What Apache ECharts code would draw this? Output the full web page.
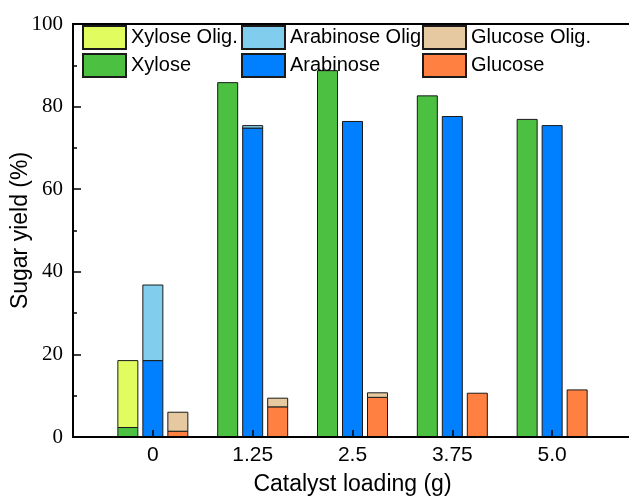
<!DOCTYPE html>
<html>
<head>
<meta charset="utf-8">
<script src="https://cdn.jsdelivr.net/npm/echarts@6/dist/echarts.min.js"></script>
<style>
  html, body { margin: 0; padding: 0; background: #fff; }
  #chart { width: 629px; height: 496px; }
</style>
</head>
<body>
<div id="chart"></div>
<script>
// Catalyst loading (g) for each group of bars
const loadings = [0, 1.25, 2.5, 3.75, 5];
const loadingLabels = ['0', '1.25', '2.5', '3.75', '5.0'];

// Sugar yields (%): monomers, with the oligomer part stacked on top of them
const xylose        = [2.3, 85.8, 88.7, 82.6, 76.9];
const xyloseOlig    = [16.2, 0, 0, 0, 0];
const arabinose     = [18.5, 74.8, 76.4, 77.6, 75.4];
const arabinoseOlig = [18.3, 0.6, 0, 0, 0];
const glucose       = [1.4, 7.3, 9.6, 10.6, 11.4];
const glucoseOlig   = [4.6, 2.1, 1.1, 0, 0];

const yTicks = [0, 20, 40, 60, 80, 100];

// [x, bottom, top] for each segment of a stacked column
function segments(vals, base) {
  return loadings.map((x, i) => {
    const lo = base ? base[i] : 0;
    return [x, lo, lo + vals[i]];
  });
}

const BAR_W = 20, BAR_STEP = 25, EDGE = '#1a1a1a';

function barSeries(name, column, color, data) {
  return {
    name, type: 'custom',
    itemStyle: { color, borderColor: EDGE, borderWidth: 1 },
    encode: { x: 0, y: [1, 2] },
    data,
    renderItem(params, api) {
      const lo = api.value(1), hi = api.value(2);
      if (hi - lo <= 0) return null;
      const p0 = api.coord([api.value(0), lo]);
      const p1 = api.coord([api.value(0), hi]);
      const left = p0[0] + column * BAR_STEP - BAR_W / 2;
      return {
        type: 'rect',
        shape: { x: left, y: p1[1], width: BAR_W, height: p0[1] - p1[1] },
        style: { fill: color, stroke: EDGE, lineWidth: 1 }
      };
    }
  };
}

const legendText = { fontFamily: 'Liberation Sans', fontSize: 20, color: '#000' };
function legendCol(left, names, extraText) {
  return {
    orient: 'vertical', left, top: 25, itemWidth: 43, itemHeight: 23, itemGap: 3,
    padding: 0, icon: 'rect', selectedMode: false,
    textStyle: Object.assign({}, legendText, extraText || {}),
    data: names
  };
}

const chart = echarts.init(document.getElementById('chart'), null, { renderer: 'canvas' });

chart.setOption({
  animation: false,
  // frame: left, top and bottom edges; the right edge sits just past the canvas
  grid: {
    left: 73, right: -3, top: 24, bottom: 59,
    containLabel: false, outerBoundsMode: 'none',
    show: true, borderColor: '#000', borderWidth: 2
  },
  legend: [
    legendCol(82, ['Xylose Olig.', 'Xylose']),
    legendCol(241, ['Arabinose Olig.', 'Arabinose'], { width: 137, overflow: 'truncate', ellipsis: '' }),
    legendCol(422, ['Glucose Olig.', 'Glucose'])
  ],
  xAxis: {
    type: 'value', min: -1, max: 6, z: 10,
    name: 'Catalyst loading (g)', nameLocation: 'middle', nameGap: 36, nameMoveOverlap: false,
    nameTextStyle: { fontFamily: 'Liberation Sans', fontSize: 23, color: '#000' },
    axisLine: { onZero: false, lineStyle: { color: '#000', width: 2 } },
    axisTick: { inside: true, length: 7, customValues: loadings, lineStyle: { color: '#000', width: 1.5 } },
    axisLabel: {
      customValues: loadings, margin: 8,
      fontFamily: 'Liberation Sans', fontSize: 21, color: '#000',
      formatter: v => loadingLabels[loadings.indexOf(v)]
    },
    splitLine: { show: false }
  },
  yAxis: {
    type: 'value', min: 0, max: 100, interval: 20, z: 10,
    name: 'Sugar yield (%)', nameLocation: 'middle', nameGap: 41, nameMoveOverlap: false,
    nameTextStyle: { fontFamily: 'Liberation Sans', fontSize: 23, color: '#000' },
    axisLine: { show: true, onZero: false, lineStyle: { color: '#000', width: 2 } },
    axisTick: { inside: true, length: 8, lineStyle: { color: '#000', width: 1.5 } },
    minorTick: { show: true, splitNumber: 2, length: 4, lineStyle: { color: '#000', width: 1.5 } },
    axisLabel: {
      margin: 10, fontFamily: 'Liberation Serif', fontSize: 21, color: '#000',
      formatter: v => (yTicks.indexOf(v) >= 0 ? String(v) : '')
    },
    splitLine: { show: false }
  },
  series: [
    barSeries('Xylose', -1, '#4cc040', segments(xylose)),
    barSeries('Xylose Olig.', -1, '#e0fc5e', segments(xyloseOlig, xylose)),
    barSeries('Arabinose', 0, '#0080ff', segments(arabinose)),
    barSeries('Arabinose Olig.', 0, '#80cdee', segments(arabinoseOlig, arabinose)),
    barSeries('Glucose', 1, '#ff8040', segments(glucose)),
    barSeries('Glucose Olig.', 1, '#e6c9a0', segments(glucoseOlig, glucose))
  ]
});
</script>
</body>
</html>
